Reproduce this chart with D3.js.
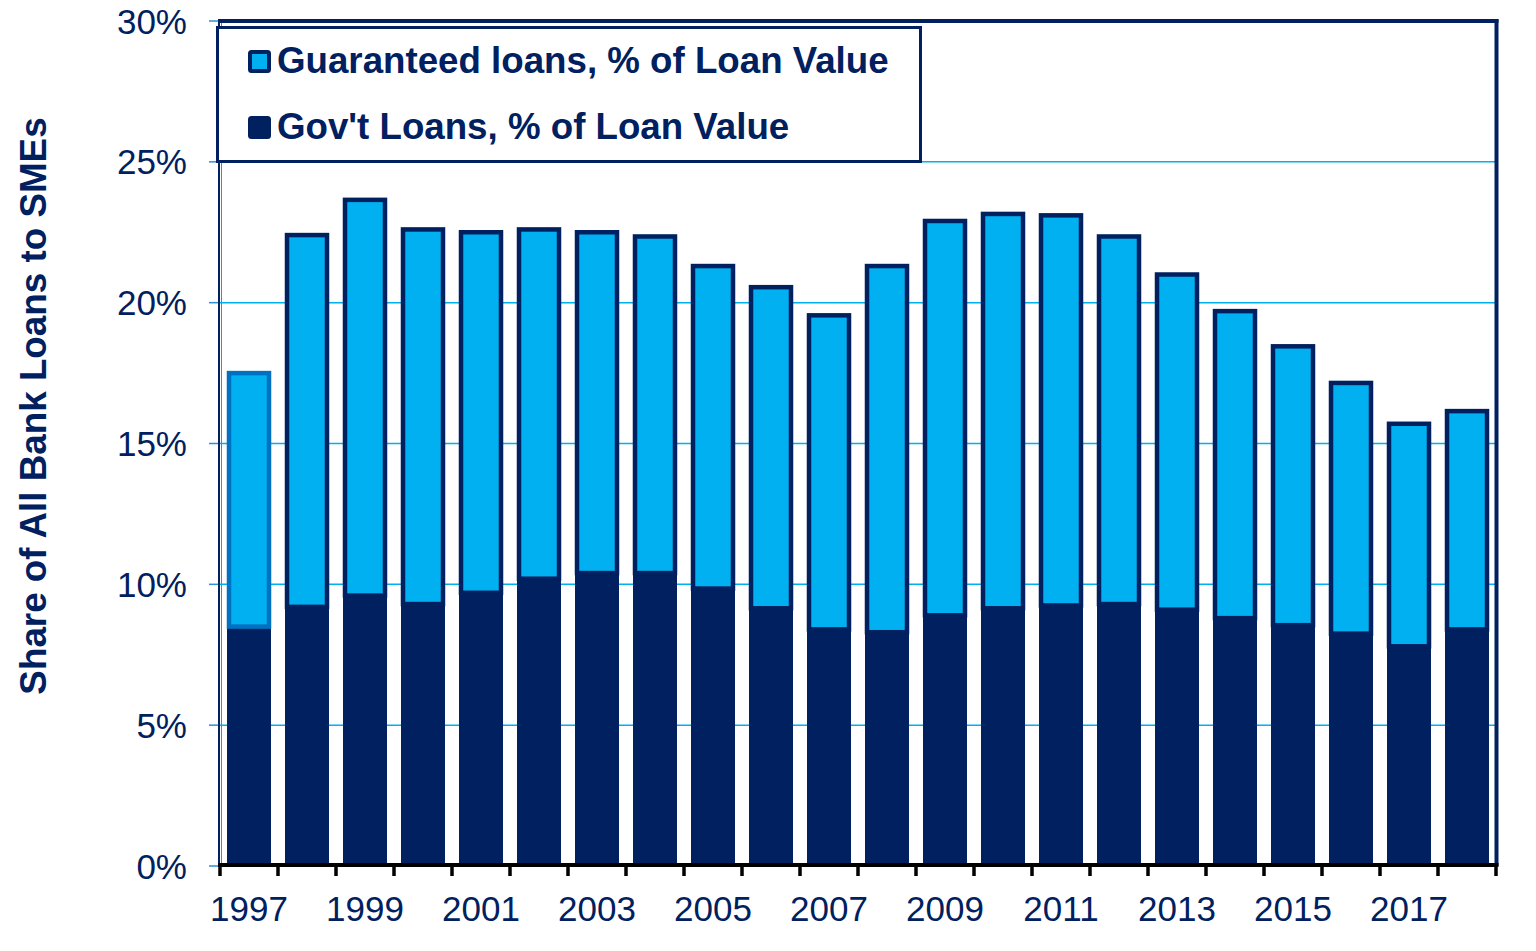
<!DOCTYPE html>
<html>
<head>
<meta charset="utf-8">
<script src="https://cdn.jsdelivr.net/npm/d3@7"></script>
<style>
  html, body { margin: 0; padding: 0; background: #fff; }
  svg { display: block; font-family: Arial, "Liberation Sans", sans-serif; }
</style>
</head>
<body>
<svg id="chart" width="1536" height="951"></svg>
<script>
// data
const years = d3.range(1997, 2019);
const govLoans = [8.5, 9.2, 9.6, 9.3, 9.7, 10.2, 10.4, 10.4, 9.85, 9.15, 8.4, 8.3,
                  8.9, 9.15, 9.25, 9.3, 9.1, 8.8, 8.55, 8.25, 7.8, 8.4];
const totals = [17.5, 22.4, 23.65, 22.6, 22.5, 22.6, 22.5, 22.35, 21.3, 20.55, 19.55, 21.3,
                22.9, 23.15, 23.1, 22.35, 21.0, 19.7, 18.45, 17.15, 15.7, 16.15];
const guaranteed = totals.map((t, i) => +(t - govLoans[i]).toFixed(2));
const yTicks = [0, 5, 10, 15, 20, 25, 30];
const xLabels = years.filter(y => y % 2 === 1);
const legendLabels = ['Guaranteed loans, % of Loan Value', "Gov't Loans, % of Loan Value"];

const navy = '#002060', sky = '#00B0F0', mid = '#0070C0';

const svg = d3.select('#chart');
const m = { l: 220, r: 1496, t: 21, b: 866 };

const x = d3.scaleBand().domain(years).range([m.l, m.r])
    .paddingInner(0.2414).paddingOuter(0.1207);
const y = d3.scaleLinear().domain([0, 30]).range([m.b, m.t]);

// gridlines
svg.append('g').selectAll('line')
    .data(yTicks.filter(d => d > 0 && d < 30))
    .join('line')
    .attr('x1', m.l).attr('x2', m.r)
    .attr('y1', d => y(d)).attr('y2', d => y(d))
    .attr('stroke', sky).attr('stroke-width', 1.5);

// y tick marks + labels
svg.append('g').selectAll('line')
    .data(yTicks).join('line')
    .attr('x1', 209).attr('x2', m.l)
    .attr('y1', d => y(d)).attr('y2', d => y(d))
    .attr('stroke', '#2e8fd6').attr('stroke-width', 1.5);

svg.append('g').selectAll('text')
    .data(yTicks).join('text')
    .attr('x', 187).attr('y', d => y(d)).attr('dy', '0.36em')
    .attr('text-anchor', 'end')
    .attr('font-size', 35).attr('fill', navy)
    .text(d => d + '%');

// bars
const bars = svg.append('g').selectAll('g').data(years).join('g');
const bw = x.bandwidth();

bars.append('rect')
    .attr('x', d => x(d))
    .attr('width', bw)
    .attr('y', (d, i) => y(govLoans[i]))
    .attr('height', (d, i) => y(0) - y(govLoans[i]))
    .attr('fill', navy);

bars.append('rect')
    .attr('x', d => x(d) + 2)
    .attr('width', bw - 4)
    .attr('y', (d, i) => y(govLoans[i] + guaranteed[i]))
    .attr('height', (d, i) => y(govLoans[i]) - y(govLoans[i] + guaranteed[i]))
    .attr('fill', sky)
    .attr('stroke', (d, i) => i === 0 ? mid : navy)
    .attr('stroke-width', 4.5);

// frame: left axis, top, right
svg.append('line').attr('x1', 219).attr('x2', 219).attr('y1', m.t).attr('y2', m.b)
    .attr('stroke', navy).attr('stroke-width', 2);
svg.append('line').attr('x1', 221.5).attr('x2', 221.5).attr('y1', m.t).attr('y2', m.b)
    .attr('stroke', '#2e8fd6').attr('stroke-width', 1);
svg.append('line').attr('x1', 218).attr('x2', 1498.5).attr('y1', m.t).attr('y2', m.t)
    .attr('stroke', navy).attr('stroke-width', 4);
svg.append('line').attr('x1', 1496.5).attr('x2', 1496.5).attr('y1', 19).attr('y2', m.b)
    .attr('stroke', navy).attr('stroke-width', 4);

// bottom axis
svg.append('line').attr('x1', 218).attr('x2', 1498.5).attr('y1', 865).attr('y2', 865)
    .attr('stroke', '#000').attr('stroke-width', 4);
svg.append('g').selectAll('line')
    .data(d3.range(years.length + 1)).join('line')
    .attr('x1', i => m.l + i * x.step()).attr('x2', i => m.l + i * x.step())
    .attr('y1', 865).attr('y2', 876)
    .attr('stroke', '#000').attr('stroke-width', 3.5);

svg.append('g').selectAll('text')
    .data(xLabels).join('text')
    .attr('x', d => x(d) + bw / 2).attr('y', 921)
    .attr('text-anchor', 'middle')
    .attr('font-size', 35).attr('fill', navy)
    .text(d => d);

// y title
svg.append('text')
    .attr('transform', 'translate(46,406) rotate(-90)')
    .attr('text-anchor', 'middle')
    .attr('font-size', 36.8).attr('font-weight', 'bold').attr('fill', navy)
    .text('Share of All Bank Loans to SMEs');

// legend
const lg = svg.append('g');
lg.append('rect').attr('x', 217.5).attr('y', 27.5).attr('width', 703).attr('height', 134)
    .attr('fill', '#fff').attr('stroke', navy).attr('stroke-width', 3);
const items = lg.selectAll('g').data(legendLabels).join('g')
    .attr('transform', (d, i) => `translate(0,${i * 66})`);
items.append('rect')
    .attr('x', 250).attr('y', 52).attr('width', 19).attr('height', 19).attr('rx', 1.5)
    .attr('fill', (d, i) => i === 0 ? sky : navy)
    .attr('stroke', navy).attr('stroke-width', 4);
items.append('text')
    .attr('x', 277).attr('y', 73)
    .attr('font-size', 36.7).attr('font-weight', 'bold').attr('fill', navy)
    .text(d => d);
</script>
</body>
</html>
